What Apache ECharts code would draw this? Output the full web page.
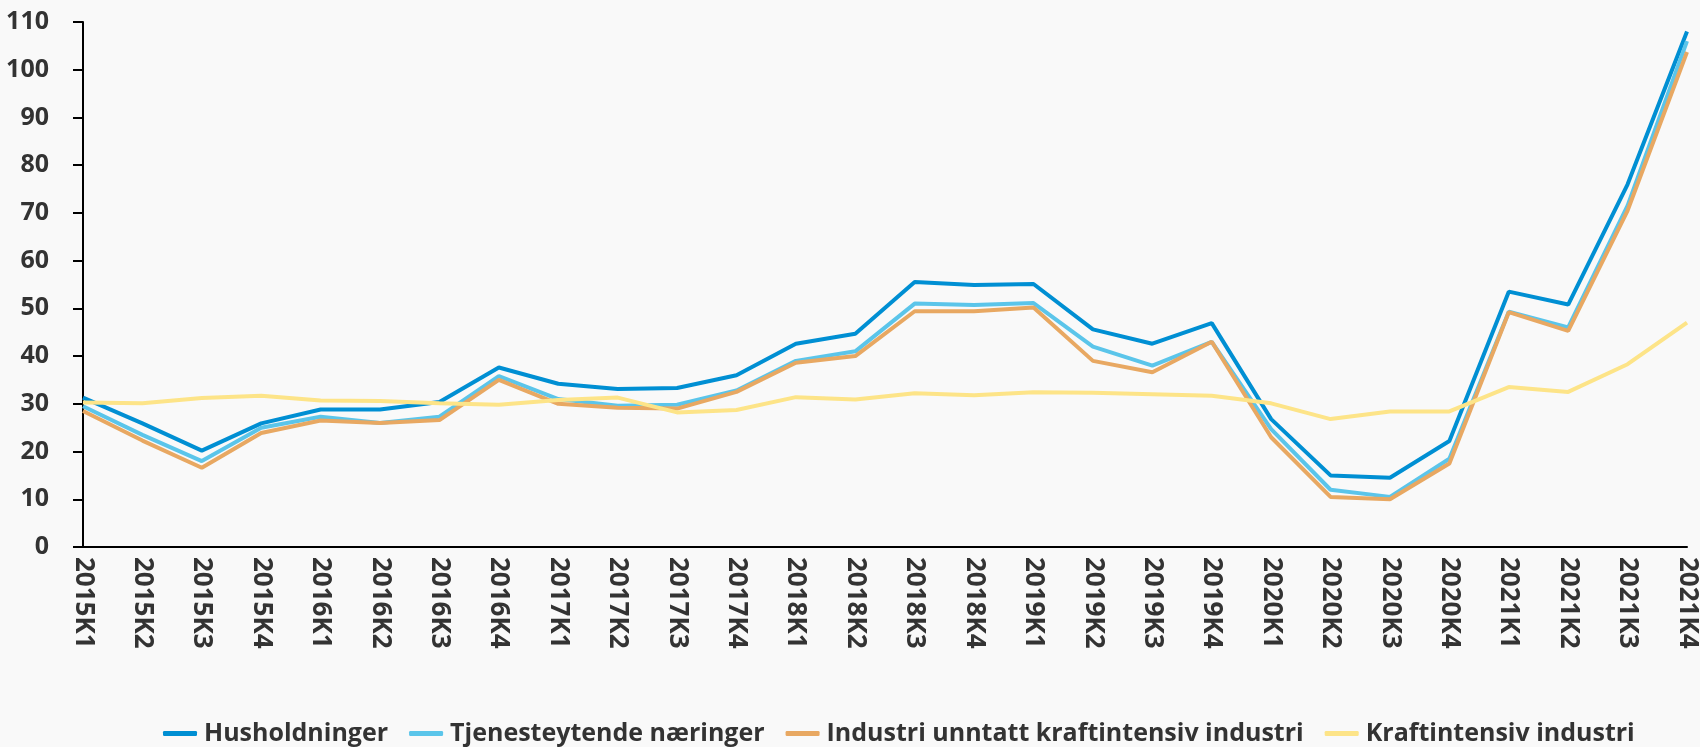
<!DOCTYPE html>
<html>
<head>
<meta charset="utf-8">
<script src="https://cdn.jsdelivr.net/npm/echarts@6/dist/echarts.min.js"></script>
<style>
  html, body { margin: 0; padding: 0; background: #f9f9f9; }
  #chart { width: 1700px; height: 747px; }
</style>
</head>
<body>
<div id="chart"></div>
<script>
// kvartaler
var quarters = ['2015K1','2015K2','2015K3','2015K4','2016K1','2016K2','2016K3','2016K4',
  '2017K1','2017K2','2017K3','2017K4','2018K1','2018K2','2018K3','2018K4',
  '2019K1','2019K2','2019K3','2019K4','2020K1','2020K2','2020K3','2020K4',
  '2021K1','2021K2','2021K3','2021K4'];

var husholdninger = [31.3, 25.9, 20.2, 25.9, 28.8, 28.8, 30.4, 37.6, 34.2, 33.1, 33.3, 36.0,
  42.6, 44.7, 55.5, 54.9, 55.1, 45.6, 42.6, 46.9, 26.8, 15.0, 14.5, 22.2, 53.5, 50.8, 76.0, 108.0];
var tjenesteytende = [29.5, 23.5, 18.0, 25.0, 27.3, 26.0, 27.3, 35.8, 31.0, 29.6, 29.8, 32.8,
  39.0, 41.0, 51.0, 50.7, 51.1, 42.0, 38.0, 43.0, 24.7, 12.0, 10.5, 18.5, 49.3, 46.0, 71.5, 106.0];
var industri = [28.5, 22.3, 16.6, 23.9, 26.5, 26.0, 26.6, 35.0, 30.0, 29.2, 29.0, 32.5,
  38.6, 40.0, 49.4, 49.4, 50.2, 39.0, 36.6, 43.0, 23.0, 10.5, 10.0, 17.5, 49.2, 45.3, 70.5, 103.7];
var kraftintensiv = [30.3, 30.1, 31.2, 31.7, 30.7, 30.6, 30.1, 29.8, 30.8, 31.3, 28.2, 28.7,
  31.4, 30.9, 32.2, 31.8, 32.4, 32.3, 32.0, 31.7, 30.1, 26.8, 28.4, 28.4, 33.5, 32.5, 38.3, 47.0];

var seriesNames = ['Husholdninger', 'Tjenesteytende næringer',
  'Industri unntatt kraftintensiv industri', 'Kraftintensiv industri'];
var seriesColors = ['#008fd3', '#5bc5ea', '#e8a862', '#fde488'];

var font = '"Open Sans", sans-serif';

function lineSeries(i, data) {
  return {
    name: seriesNames[i],
    type: 'line',
    data: data,
    symbol: 'none',
    color: seriesColors[i],
    lineStyle: { width: 4, color: seriesColors[i] }
  };
}

var myChart = echarts.init(document.getElementById('chart'));
myChart.setOption({
  backgroundColor: '#f9f9f9',
  animation: false,
  grid: { left: 83, right: 10, top: 22, bottom: 200 },
  legend: {
    data: seriesNames,
    left: 158,
    top: 716,
    itemGap: 21,
    itemWidth: 34,
    itemHeight: 5,
    icon: 'roundRect',
    textStyle: { fontFamily: font, fontSize: 25, fontWeight: 'bold', color: '#333', padding: [0, 0, 0, 2] }
  },
  xAxis: {
    type: 'category',
    data: quarters,
    boundaryGap: false,
    axisLine: { lineStyle: { color: '#000', width: 2 } },
    axisTick: { show: false },
    axisLabel: {
      interval: 0,
      rotate: -90,
      margin: 10,
      fontFamily: font,
      fontSize: 26,
      fontWeight: 'bold',
      color: '#333'
    }
  },
  yAxis: {
    type: 'value',
    min: 0,
    max: 110,
    interval: 10,
    splitLine: { show: false },
    axisLine: { show: true, lineStyle: { color: '#000', width: 2 } },
    axisTick: { show: true, length: 10, lineStyle: { color: '#000', width: 2 } },
    axisLabel: {
      margin: 34,
      fontFamily: font,
      fontSize: 25,
      fontWeight: 'bold',
      color: '#333'
    }
  },
  series: [
    lineSeries(0, husholdninger),
    lineSeries(1, tjenesteytende),
    lineSeries(2, industri),
    lineSeries(3, kraftintensiv)
  ]
});
</script>
</body>
</html>
